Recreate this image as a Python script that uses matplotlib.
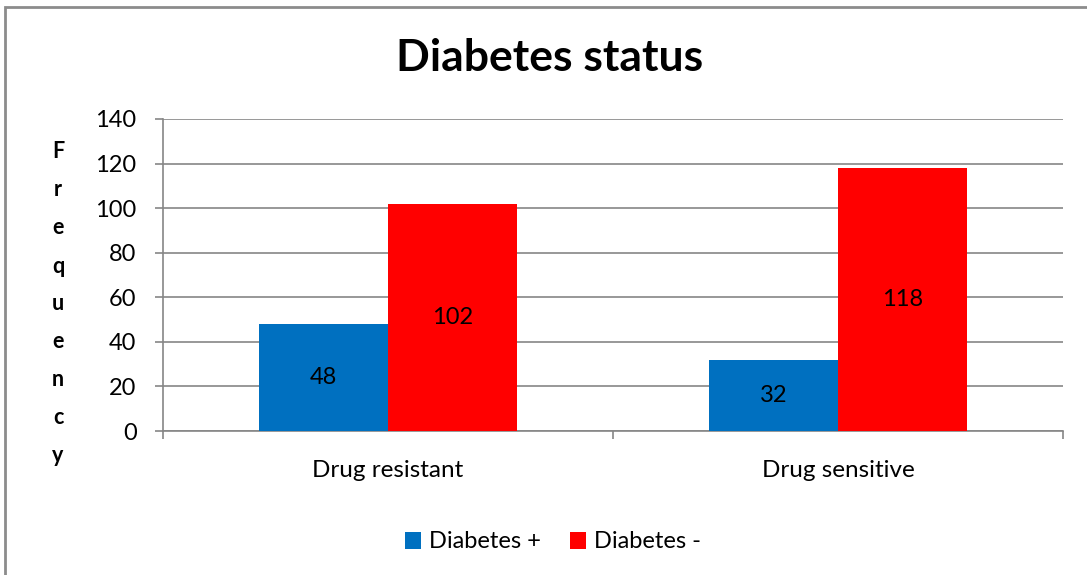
import matplotlib
matplotlib.use("Agg")
import matplotlib.pyplot as plt
import numpy as np
from matplotlib.patches import Rectangle

plt.rcParams['font.family'] = ['Lato', 'DejaVu Sans']

categories = ["Drug resistant", "Drug sensitive"]
diabetes_pos = [48, 32]
diabetes_neg = [102, 118]
series_names = ["Diabetes +", "Diabetes -"]
y_ticks = [0, 20, 40, 60, 80, 100, 120, 140]

blue = "#0070C0"
red = "#FF0000"
grid_col = "#868686"

fig = plt.figure(figsize=(10.87, 5.75), dpi=100)
ax = fig.add_axes([163 / 1087, 1 - 431 / 575, 900 / 1087, 312 / 575])

x = np.arange(len(categories))
w = 0.287
b1 = ax.bar(x - w / 2, diabetes_pos, w, color=blue, label=series_names[0], zorder=3)
b2 = ax.bar(x + w / 2, diabetes_neg, w, color=red, label=series_names[1], zorder=3)
ax.bar_label(b1, label_type='center', fontsize=17)
ax.bar_label(b2, label_type='center', fontsize=17)

ax.set_xlim(-0.5, 1.5)
ax.set_ylim(0, 140)
ax.set_yticks(y_ticks)
ax.yaxis.grid(True, color=grid_col, linewidth=1.2, zorder=0)
ax.set_axisbelow(True)

ax.set_xticks(x)
ax.set_xticklabels(categories)
ax.set_xticks([-0.5, 0.5, 1.5], minor=True)
ax.tick_params(axis='x', which='major', length=0, pad=21, labelsize=17.5)
ax.tick_params(axis='x', which='minor', length=6, color=grid_col, width=1.2)
ax.tick_params(axis='y', length=6, color=grid_col, width=1.2, pad=13, labelsize=17)

for s in ['top', 'right']:
    ax.spines[s].set_visible(False)
for s in ['left', 'bottom']:
    ax.spines[s].set_color(grid_col)
    ax.spines[s].set_linewidth(1.2)

fig.text(550 / 1087, 1 - 58 / 575, "Diabetes status", fontsize=32, fontweight='bold',
         ha='center', va='center')

# vertical stacked axis label
for i, ch in enumerate("Frequency"):
    fig.text(58 / 1087, 1 - (152 + 38 * i) / 575, ch, fontsize=15.5, fontweight='bold',
             ha='center', va='center')

fig.legend(handles=[b1, b2], loc='center', bbox_to_anchor=(553 / 1087, 1 - 542 / 575),
           ncol=2, frameon=False, fontsize=17, handlelength=0.7, handleheight=0.7,
           handletextpad=0.35, columnspacing=1.2)

fig.patches.append(Rectangle((5 / 1087, -0.1), 1.2, 1 - 7 / 575 + 0.1, transform=fig.transFigure,
                             fill=False, edgecolor="#8c8c8c", linewidth=2))

fig.savefig("out.png", dpi=100)
